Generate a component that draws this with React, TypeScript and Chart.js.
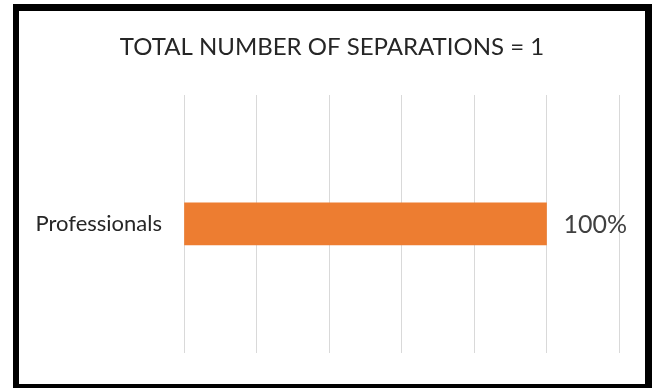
import React, { useEffect, useRef } from "react";
import { Chart, registerables } from "chart.js";

Chart.register(...registerables);

const categories: string[] = ["Professionals"];
const percentValues: number[] = [100];
const axisMin = 0;
const axisMax = 120;
const axisStep = 20;
const titleText = "TOTAL NUMBER OF SEPARATIONS = 1";

const FONT = "Lato, 'Open Sans', 'DejaVu Sans', sans-serif";

const titlePlugin = {
  id: "frameTitle",
  afterDraw(chart: any) {
    const ctx = chart.ctx;
    ctx.save();
    ctx.font = `24px ${FONT}`;
    ctx.fillStyle = "#262626";
    ctx.textAlign = "center";
    ctx.textBaseline = "middle";
    ctx.fillText(titleText, 332, 47);
    ctx.restore();
  },
};

const dataLabelPlugin = {
  id: "dataLabelPlugin",
  afterDatasetsDraw(chart: any) {
    const ctx = chart.ctx;
    const meta = chart.getDatasetMeta(0);
    const xs = chart.scales.x;
    ctx.save();
    ctx.font = `25px ${FONT}`;
    ctx.fillStyle = "#404040";
    ctx.textAlign = "left";
    ctx.textBaseline = "middle";
    meta.data.forEach((bar: any, i: number) => {
      const v = percentValues[i];
      const x = xs.getPixelForValue(v) + 17;
      ctx.fillText(`${v}%`, x, bar.y + 1);
    });
    ctx.restore();
  },
};

export default function App() {
  const ref = useRef<HTMLCanvasElement | null>(null);

  useEffect(() => {
    if (!ref.current) return;
    const chart = new Chart(ref.current, {
      type: "bar",
      data: {
        labels: categories,
        datasets: [
          {
            data: percentValues,
            backgroundColor: "#ED7D31",
            borderWidth: 0,
            barThickness: 42,
          },
        ],
      },
      plugins: [dataLabelPlugin, titlePlugin],
      options: {
        indexAxis: "y",
        responsive: false,
        animation: false,
        devicePixelRatio: 1,
        layout: { padding: { left: 0, right: 33, top: 95, bottom: 28 } },
        plugins: {
          legend: { display: false },
          tooltip: { enabled: false },
          title: { display: false },
        },
        scales: {
          x: {
            min: axisMin,
            max: axisMax,
            ticks: { display: false, stepSize: axisStep },
            grid: { color: "#d9d9d9", lineWidth: 1, drawTicks: false },
            border: { display: false },
          },
          y: {
            grid: { display: false, drawTicks: false },
            border: { display: false },
            ticks: {
              color: "#262626",
              padding: 22,
              font: { family: FONT, size: 22 },
            },
            afterFit: (scale: any) => {
              scale.width = 184;
            },
          },
        },
      },
    });
    return () => chart.destroy();
  }, []);

  return (
    <div style={{ position: "fixed", left: 0, top: 0, width: 652, height: 388, background: "#fff" }}>
      <canvas ref={ref} width={652} height={388} style={{ position: "absolute", left: 0, top: 0 }} />
      <div
        style={{
          position: "absolute",
          left: 13,
          top: 4,
          width: 639,
          height: 384,
          boxSizing: "border-box",
          borderStyle: "solid",
          borderColor: "#000",
          borderWidth: "7px 7px 4px 6px",
          pointerEvents: "none",
        }}
      />
    </div>
  );
}
